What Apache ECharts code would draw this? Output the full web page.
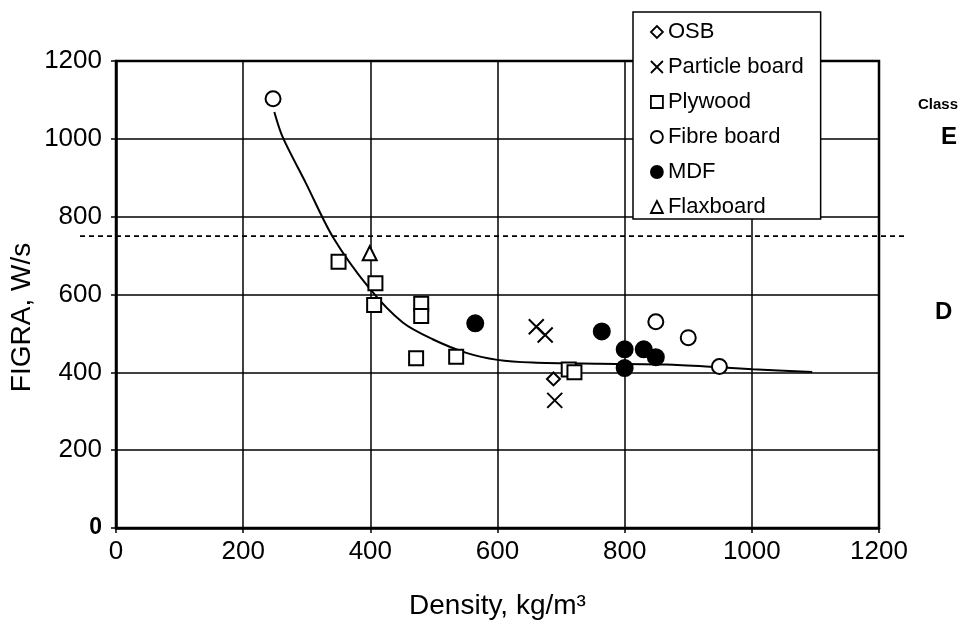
<!DOCTYPE html>
<html>
<head>
<meta charset="utf-8">
<title>FIGRA vs density</title>
<script src="https://cdn.jsdelivr.net/npm/echarts@6/dist/echarts.min.js"></script>
<style>
  html, body { margin: 0; padding: 0; background: #fff; }
  #chart { width: 960px; height: 620px; }
</style>
</head>
<body>
<div id="chart"></div>
<script>
// axis range / ticks
var axisMin = 0
var axisMax = 1200
var tickStep = 200

// measured points [density kg/m3, FIGRA W/s]
var osb = [[688, 383]]
var particleBoard = [[661, 517], [675, 496], [690, 328]]
var plywood = [[350, 684], [408, 629], [406, 573], [480, 576], [480, 545], [472, 436], [535, 440], [712, 407], [721, 400]]
var fibreBoard = [[247, 1103], [849, 530], [900, 489], [949, 415]]
var mdf = [[565, 526], [764, 505], [800, 459], [830, 459], [849, 439], [800, 411]]
var flaxboard = [[399, 706]]

// fitted trend line
var trend = [[249, 1069], [262, 1005], [299, 885], [341, 748], [399, 615], [451, 528], [498, 485], [551, 450], [600, 432], [655, 425], [760, 422], [865, 420], [949, 413], [1001, 408], [1095, 401]]

// class E / D boundary
var classLimit = 750
var limitLine = [[0, classLimit], [1, classLimit]]

var legendNames = ['OSB', 'Particle board', 'Plywood', 'Fibre board', 'MDF', 'Flaxboard']

var font = 'Liberation Sans, Arial, sans-serif'
var chart = echarts.init(document.getElementById('chart'))

function marker(name, data, symbol, size, fill) {
  return {
    name: name,
    type: 'scatter',
    data: data,
    symbol: symbol,
    symbolSize: size,
    z: 5,
    itemStyle: {
      color: fill,
      borderColor: '#000',
      borderWidth: 2,
      opacity: 1
    }
  }
}

chart.setOption({
  animation: false,
  backgroundColor: '#fff',
  grid: [{
    left: 116,
    right: 81,
    top: 61,
    bottom: 92,
    outerBoundsMode: 'none',
    show: true,
    borderColor: '#000',
    borderWidth: 2.5,
    z: 1
  }, {
    // wider box so the dashed limit runs past the frame
    left: 80,
    right: 55,
    top: 61,
    bottom: 92,
    outerBoundsMode: 'none'
  }],
  legend: {
    data: legendNames,
    orient: 'vertical',
    left: 633,
    top: 12,
    padding: [9, 17, 1, 17],
    itemGap: 13,
    itemWidth: 12,
    itemHeight: 12,
    selectedMode: false,
    backgroundColor: '#fff',
    borderColor: '#000',
    borderWidth: 1.5,
    itemStyle: { borderWidth: 1.8 },
    textStyle: {
      fontFamily: font,
      fontSize: 22,
      lineHeight: 22,
      color: '#000'
    },
    z: 10
  },
  xAxis: [{
    type: 'value',
    gridIndex: 0,
    min: axisMin,
    max: axisMax,
    interval: tickStep,
    name: 'Density, kg/m³',
    nameLocation: 'middle',
    nameGap: 64,
    nameTextStyle: { fontFamily: font, fontSize: 28, color: '#000' },
    axisLine: { lineStyle: { color: '#000', width: 2.5 } },
    axisTick: { length: 5, lineStyle: { color: '#000', width: 1.5 } },
    axisLabel: {
      fontFamily: font,
      fontSize: 26,
      color: '#000',
      margin: 11,
      formatter: function (v) { return String(v) }
    },
    splitLine: { lineStyle: { color: '#000', width: 1.5 } }
  }, {
    type: 'value',
    gridIndex: 1,
    min: 0,
    max: 1,
    show: false
  }],
  yAxis: [{
    type: 'value',
    gridIndex: 0,
    min: axisMin,
    max: axisMax,
    interval: tickStep,
    name: 'FIGRA, W/s',
    nameLocation: 'middle',
    nameGap: 80,
    nameMoveOverlap: false,
    nameTextStyle: { fontFamily: font, fontSize: 28, color: '#000', padding: [0, 46, 0, 0] },
    axisLine: { lineStyle: { color: '#000', width: 2.5 } },
    axisTick: { length: 5, lineStyle: { color: '#000', width: 1.5 } },
    axisLabel: {
      fontFamily: font,
      fontSize: 26,
      color: '#000',
      margin: 14,
      formatter: function (v) { return v === 0 ? '{b|0}' : String(v) },
      rich: { b: { fontFamily: font, fontSize: 23, fontWeight: 'bold', color: '#000' } }
    },
    splitLine: { lineStyle: { color: '#000', width: 1.5 } }
  }, {
    type: 'value',
    gridIndex: 1,
    min: axisMin,
    max: axisMax,
    show: false
  }],
  graphic: [
    { type: 'text', left: 918, top: 97, style: { text: 'Class', font: 'bold 15px ' + font, fill: '#000' } },
    { type: 'text', left: 941, top: 125, style: { text: 'E', font: 'bold 24px ' + font, fill: '#000' } },
    { type: 'text', left: 935, top: 300, style: { text: 'D', font: 'bold 24px ' + font, fill: '#000' } }
  ],
  series: [
    {
      name: 'limit',
      type: 'line',
      xAxisIndex: 1,
      yAxisIndex: 1,
      data: limitLine,
      symbol: 'none',
      silent: true,
      z: 2,
      lineStyle: { color: '#000', width: 1.8, type: [5, 4] }
    },
    {
      name: 'trend',
      type: 'line',
      data: trend,
      symbol: 'none',
      smooth: 0.3,
      silent: true,
      z: 3,
      lineStyle: { color: '#000', width: 2 }
    },
    marker('OSB', osb, 'diamond', 13, '#fff'),
    marker('Particle board', particleBoard, 'path://M0,0L10,10M10,0L0,10', 15, '#000'),
    marker('Plywood', plywood, 'rect', 14, '#fff'),
    marker('Fibre board', fibreBoard, 'circle', 15, '#fff'),
    marker('MDF', mdf, 'circle', 16, '#000'),
    marker('Flaxboard', flaxboard, 'triangle', 14, '#fff')
  ]
})
</script>
</body>
</html>
